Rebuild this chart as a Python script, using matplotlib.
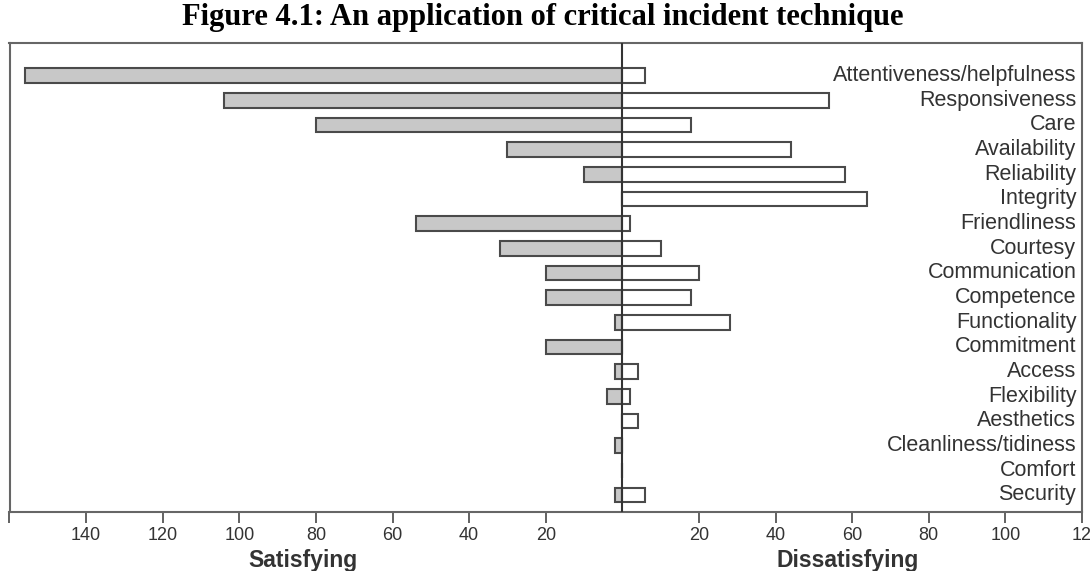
import matplotlib
matplotlib.use("Agg")
import matplotlib.pyplot as plt
import numpy as np

categories = ["Attentiveness/helpfulness", "Responsiveness", "Care", "Availability",
              "Reliability", "Integrity", "Friendliness", "Courtesy", "Communication",
              "Competence", "Functionality", "Commitment", "Access", "Flexibility",
              "Aesthetics", "Cleanliness/tidiness", "Comfort", "Security"]
satisfying = [156, 104, 80, 30, 10, 0, 54, 32, 20, 20, 2, 20, 2, 4, 0, 2, 0, 2]
dissatisfying = [6, 54, 18, 44, 58, 64, 2, 10, 20, 18, 28, 0, 4, 2, 4, 0, 0, 6]

tick_values = [-160, -140, -120, -100, -80, -60, -40, -20, 20, 40, 60, 80, 100, 120]
tick_labels = ["", "140", "120", "100", "80", "60", "40", "20", "20", "40", "60", "80", "100", "12"]

plt.rcParams['font.family'] = ['Liberation Sans', 'DejaVu Sans']

fig = plt.figure(figsize=(10.9, 5.71), dpi=100)
ax = fig.add_axes([9.5/1090, 1 - 512/571, (1082 - 9.5)/1090, (512 - 43)/571])

y = np.arange(len(categories))
edge = "#4a4a4a"
ax.barh(y, [-v for v in satisfying], height=0.6, color="#c8c8c8", edgecolor=edge, linewidth=1.5)
ax.barh(y, dissatisfying, height=0.6, color="white", edgecolor=edge, linewidth=1.5)
ax.axvline(0, color="#333333", linewidth=1.5, zorder=5)

ax.set_xlim(-160, 120)
ax.set_ylim(17.69, -1.32)
ax.set_yticks([])
ax.set_xticks(tick_values)
ax.set_xticklabels(tick_labels, fontsize=13, color="#333333")
ax.tick_params(axis='x', direction='out', length=8, width=1.3, color="#555555", pad=3)

for s in ax.spines.values():
    s.set_color("#666666")
    s.set_linewidth(1.5)

for i, c in enumerate(categories):
    ax.text(118.5, i, c, ha="right", va="center", fontsize=15.5, color="#333333")

fig.text(543/1090, 1 - 25/571, "Figure 4.1: An application of critical incident technique",
         ha="center", va="baseline", fontsize=22, fontweight="bold",
         family=["Liberation Serif", "DejaVu Serif"], color="black")

fig.text(303/1090, 1 - 561/571, "Satisfying", ha="center", va="center",
         fontsize=16.5, fontweight="bold", color="#333333")
fig.text(848/1090, 1 - 561/571, "Dissatisfying", ha="center", va="center",
         fontsize=16.5, fontweight="bold", color="#333333")

fig.savefig("out.png", dpi=100)
